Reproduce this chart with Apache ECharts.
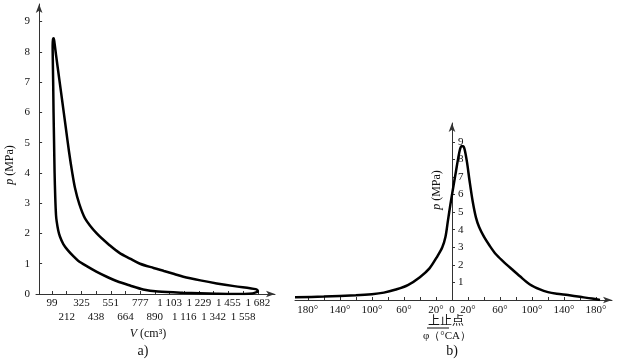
<!DOCTYPE html>
<html><head><meta charset="utf-8">
<script src="https://cdn.jsdelivr.net/npm/echarts@6/dist/echarts.min.js"></script>
<style>html,body{margin:0;padding:0;background:#fff}#c{width:622px;height:363px}</style>
</head><body><div id="c"></div>
<script>
// ---- chart a) p-V indicator loop ----
const volTicks = [99,212,325,438,551,664,777,890,1003,1116,1229,1342,1455,1569,1682];
const volTickLabels = ['99','212','325','438','551','664','777','890','1 103','1 116','1 229','1 342','1 455','1 558','1 682'];
const pTicksA = [0,1,2,3,4,5,6,7,8,9];
const loopV = [1678,1640,1500,1366,1106,914,800,699,600,520,440,366,300,263,220,186,160,147,135,130,124,119,115,111,108,105,104,107,112,118,
               130,155,180,205,230,255,276,307,353,443,545,620,699,776,880,960,1040,1109,1240,1366,1500,1622,1665,1680,1682,1678];
const loopP = [0.07,0.02,0.0,0.01,0.04,0.08,0.15,0.28,0.42,0.57,0.74,0.92,1.1,1.25,1.45,1.65,1.9,2.1,2.4,2.6,3.2,4.0,5.0,6.0,7.0,7.8,8.2,8.42,8.45,8.3,
               7.9,7.1,6.3,5.5,4.7,4.0,3.5,3.0,2.5,2.0,1.6,1.35,1.17,1.0,0.86,0.76,0.66,0.57,0.45,0.35,0.26,0.19,0.16,0.12,0.08,0.05];
// ---- chart b) p vs crank angle ----
const crankAngle = [-196,-160,-120,-100,-85,-70,-55,-40,-28,-18,-12,-8,-5,-2,2,5,8,10,12,14,16,19,22,26,30,34,40,47,55,64,75,85,97,110,120,131,145,160,175,185];
const crankP = [0.15,0.2,0.27,0.33,0.42,0.6,0.85,1.3,1.8,2.5,3.0,3.6,4.5,5.4,6.5,7.3,8.1,8.55,8.75,8.75,8.55,7.8,6.8,5.6,4.7,4.15,3.6,3.1,2.6,2.2,1.75,1.35,0.9,0.6,0.45,0.36,0.28,0.18,0.08,0.0];
const angleTicks = [-180,-160,-140,-120,-100,-80,-60,-40,-20,0,20,40,60,80,100,120,140,160,180];
const angleLabelValues = [-180,-140,-100,-60,-20,0,20,60,100,140,180];
const pTicksB = [1,2,3,4,5,6,7,8,9];

const serif = 'Liberation Serif';
const axisCol = '#333';
const chart = echarts.init(document.getElementById('c'), null, {renderer:'canvas'});
const lineAxis = {show:true, symbol:['none','arrow'], symbolSize:[5,9], lineStyle:{color:axisCol, width:1}};
const volRow1 = volTicks.filter((v,i)=>i%2===0);
const volRow2 = volTicks.filter((v,i)=>i%2===1);
const volLabel = (v)=>{let best=0;volTicks.forEach((t,k)=>{if(Math.abs(t-v)<Math.abs(volTicks[best]-v))best=k;});return volTickLabels[best];};

chart.setOption({
  animation:false,
  backgroundColor:'#fff',
  grid:[
    {left:36, top:4, width:239, height:290},
    {left:295, top:123, width:317, height:177}
  ],
  xAxis:[
    {gridIndex:0, type:'value', min:-24, max:1814, position:'bottom',
     axisLine:lineAxis, splitLine:{show:false},
     axisTick:{show:true, customValues:volTicks, inside:true, length:3, lineStyle:{color:axisCol}},
     axisLabel:{show:true, customValues:volRow1, showMaxLabel:true, showMinLabel:true, hideOverlap:false,
       fontFamily:serif, fontSize:11, color:'#111', margin:4, formatter:volLabel}},
    {gridIndex:1, type:'value', min:-196, max:200,
     axisLine:lineAxis, splitLine:{show:false},
     axisTick:{show:true, customValues:angleTicks, inside:true, length:3, lineStyle:{color:axisCol}},
     axisLabel:{show:true, customValues:angleLabelValues, fontFamily:serif, fontSize:11, color:'#111', margin:5,
       formatter:(v)=> v===0 ? '0' : Math.abs(v)+'°'}},
    {gridIndex:0, type:'value', min:-24, max:1814, position:'bottom', offset:0,
     axisLine:{show:false}, axisTick:{show:false}, splitLine:{show:false},
     axisLabel:{show:true, customValues:volRow2, showMaxLabel:true, showMinLabel:true, hideOverlap:false,
       fontFamily:serif, fontSize:11, color:'#111', margin:18, formatter:volLabel}}
  ],
  yAxis:[
    {gridIndex:0, type:'value', min:0, max:9.58,
     axisLine:lineAxis, splitLine:{show:false},
     axisTick:{show:true, customValues:pTicksA, inside:true, length:3, lineStyle:{color:axisCol}},
     axisLabel:{show:true, customValues:pTicksA, fontFamily:serif, fontSize:11, color:'#111', margin:6}},
    {gridIndex:1, type:'value', min:0, max:10.07, offset:-157,
     axisLine:Object.assign({}, lineAxis, {onZero:false}), splitLine:{show:false},
     axisTick:{show:true, customValues:pTicksB, inside:true, length:3, lineStyle:{color:axisCol}},
     axisLabel:{show:true, customValues:pTicksB, inside:true, fontFamily:serif, fontSize:11, color:'#111', margin:6}}
  ],
  series:[
    {type:'line', xAxisIndex:0, yAxisIndex:0, data:loopV.map((v,i)=>[v,loopP[i]]),
     showSymbol:false, smooth:0.3, lineStyle:{color:'#000', width:2.5}},
    {type:'line', xAxisIndex:1, yAxisIndex:1, data:crankAngle.map((a,i)=>[a,crankP[i]]),
     showSymbol:false, smooth:0.3, lineStyle:{color:'#000', width:2.5}}
  ],
  graphic:[
    {type:'text', x:10, y:165, rotation:Math.PI/2, style:{text:'{i|p} (MPa)', rich:{i:{fontStyle:'italic',fontFamily:serif,fontSize:12}}, fontFamily:serif, fontSize:12, fill:'#111', align:'center', verticalAlign:'middle'}},
    {type:'text', x:148, y:334, style:{text:'{i|V} (cm³)', rich:{i:{fontStyle:'italic',fontFamily:serif,fontSize:12}}, fontFamily:serif, fontSize:12, fill:'#111', align:'center', verticalAlign:'middle'}},
    {type:'text', x:143, y:351, style:{text:'a)', fontFamily:serif, fontSize:14, fill:'#111', align:'center', verticalAlign:'middle'}},
    {type:'text', x:437, y:190, rotation:Math.PI/2, style:{text:'{i|p} (MPa)', rich:{i:{fontStyle:'italic',fontFamily:serif,fontSize:12}}, fontFamily:serif, fontSize:12, fill:'#111', align:'center', verticalAlign:'middle'}},
    {type:'text', x:446, y:320, style:{text:'上止点', fontFamily:'Noto Sans CJK SC', fontSize:12, fill:'#111', align:'center', verticalAlign:'middle'}},
    {type:'line', shape:{x1:427, y1:328, x2:449, y2:328}, style:{stroke:'#111', lineWidth:1}},
    {type:'text', x:447, y:336, style:{text:'φ（°CA）', fontFamily:serif, fontSize:11, fill:'#111', align:'center', verticalAlign:'middle'}},
    {type:'text', x:452, y:351, style:{text:'b)', fontFamily:serif, fontSize:14, fill:'#111', align:'center', verticalAlign:'middle'}}
  ]
});
</script></body></html>
